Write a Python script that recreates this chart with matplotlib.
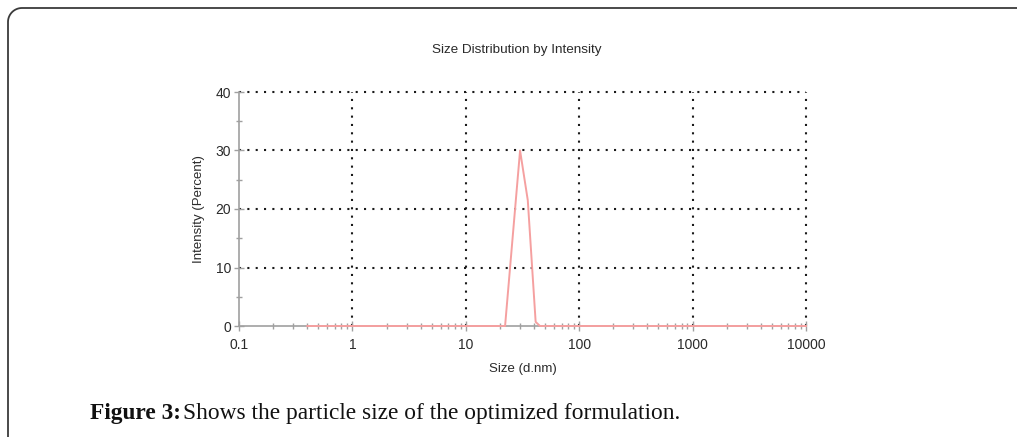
import numpy as np
import matplotlib
matplotlib.use("Agg")
import matplotlib.pyplot as plt
from matplotlib.path import Path
from matplotlib.patches import PathPatch
from matplotlib.ticker import LogLocator, FixedLocator, NullFormatter, FuncFormatter

# data
size_nm = [0.4, 22.2, 30.1, 35.2, 41.3, 45.1, 10000]
intensity = [0.0, 0.0, 30.0, 21.5, 0.7, 0.0, 0.0]
xticks = [0.1, 1, 10, 100, 1000, 10000]
xtick_labels = ["0.1", "1", "10", "100", "1000", "10000"]
yticks = [0, 10, 20, 30, 40]
yminor = [5, 15, 25, 35]

plt.rcParams["font.family"] = ["Liberation Sans", "DejaVu Sans"]

W, H = 1017, 437
fig = plt.figure(figsize=(W / 100, H / 100), dpi=100)
fig.patch.set_facecolor("white")

ax = fig.add_axes([239 / W, 1 - 326 / H, (806 - 239) / W, (326 - 92) / H])
ax.set_xscale("log")
ax.set_xlim(0.1, 10000)
ax.set_ylim(0, 40)

grey = "#a0a0a0"
txt = "#2a2a2a"
# dotted grid
for xv in xticks[1:]:
    ax.axvline(xv, color="#1a1a1a", lw=1.5, ls=(0, (1, 3)), zorder=1, clip_on=False)
for yv in yticks[1:]:
    ax.axhline(yv, color="#1a1a1a", lw=1.5, ls=(0, (1, 3)), zorder=1, clip_on=False)

ax.plot(size_nm, intensity, color="#f5a0a0", lw=1.4, zorder=3, clip_on=False)

for s in ["top", "right"]:
    ax.spines[s].set_visible(False)
for s in ["left", "bottom"]:
    ax.spines[s].set_color(grey)
    ax.spines[s].set_linewidth(1.2)

ax.xaxis.set_major_locator(FixedLocator(xticks))
ax.xaxis.set_major_formatter(FuncFormatter(lambda v, p: xtick_labels[xticks.index(v)] if v in xticks else ""))
ax.xaxis.set_minor_locator(LogLocator(base=10, subs=np.arange(2, 10), numticks=20))
ax.xaxis.set_minor_formatter(NullFormatter())
ax.set_yticks(yticks)
ax.yaxis.set_minor_locator(FixedLocator(yminor))

ax.tick_params(axis="both", which="major", direction="inout", length=7, width=1.0,
               color=grey, labelsize=10, labelcolor=txt, pad=2)
ax.tick_params(axis="both", which="minor", direction="inout", length=5, width=1.0, color=grey)
ax.tick_params(axis="x", pad=5)

ax.set_title("Size Distribution by Intensity", fontsize=9.7, color=txt, pad=28, x=0.49)
ax.set_xlabel("Size (d.nm)", fontsize=9.5, color=txt, labelpad=8)
ax.set_ylabel("Intensity (Percent)", fontsize=9.5, color=txt, labelpad=8)

# caption
fig.text(90 / W, 1 - 413 / H, "Figure 3:", fontsize=16.8, fontweight="bold",
         family="Liberation Serif", va="center", ha="left", color="#111111")
fig.text(183 / W, 1 - 413 / H, "Shows the particle size of the optimized formulation.",
         fontsize=16.8, family="Liberation Serif", va="center", ha="left", color="#111111")

# frame with rounded top-left corner
r = 14
t = np.linspace(np.pi, np.pi / 2, 20)
px = [8] + list(8 + r + r * np.cos(t)) + [W]
py = [H] + list(8 + r - r * np.sin(t)) + [8]
verts = [(a / W, 1 - b / H) for a, b in zip(px, py)]
fig.add_artist(PathPatch(Path(verts), fill=False, edgecolor="#3a3a3a", lw=1.3,
                         transform=fig.transFigure))

fig.savefig("out.png", dpi=100)
